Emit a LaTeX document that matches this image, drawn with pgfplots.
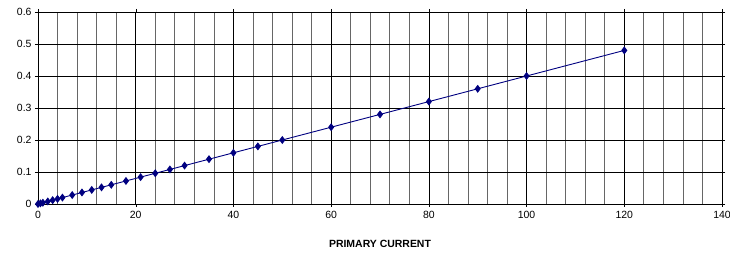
\documentclass[border=0pt]{standalone}
\usepackage{pgfplots}
\pgfplotsset{compat=1.18}
\usepackage{fontspec}
\setmainfont{Liberation Sans}
\definecolor{navy}{RGB}{0,0,128}
\begin{document}
\begin{tikzpicture}
\path[use as bounding box] (-38bp,-52bp) rectangle (692bp,204bp);
\begin{axis}[
  at={(0,0)}, anchor=south west,
  scale only axis,
  width=684bp, height=192bp,
  xmin=0, xmax=140, ymin=0, ymax=0.6,
  xtick={0,20,...,140},
  ytick={0,0.1,...,0.6},
  minor xtick={4,8,...,136},
  grid=both,
  major grid style={black, line width=0.7pt},
  minor grid style={black!60, line width=0.7pt},
  axis line style={black, line width=0.7pt},
  tick style={black},
  tick align=outside,
  major tick length=3bp,
  minor tick length=0pt,
  tick label style={font=\fontsize{10.5}{12}\selectfont},
  xticklabel style={yshift=-1bp},
  /pgf/number format/assume math mode=true,
  yticklabel style={/pgf/number format/fixed, /pgf/number format/precision=1},
  xlabel={\textbf{PRIMARY CURRENT}},
  xlabel style={font=\fontsize{10.5}{12}\selectfont, at={(axis description cs:0.5,0)}, anchor=center, yshift=-40bp},
  clip=false,
]
\addplot[navy, line width=0.9pt, mark=diamond*, mark size=3.3bp, mark options={fill=navy, draw=navy}] coordinates {
(0,0) (0.5,0.002) (1,0.004) (2,0.008) (3,0.012) (4,0.016) (5,0.02) (7,0.028) (9,0.036) (11,0.044) (13,0.052) (15,0.06) (18,0.072) (21,0.084) (24,0.096) (27,0.108) (30,0.12) (35,0.14) (40,0.16) (45,0.18) (50,0.2) (60,0.24) (70,0.28) (80,0.32) (90,0.36) (100,0.4) (120,0.48)
};
\end{axis}
\end{tikzpicture}
\end{document}
